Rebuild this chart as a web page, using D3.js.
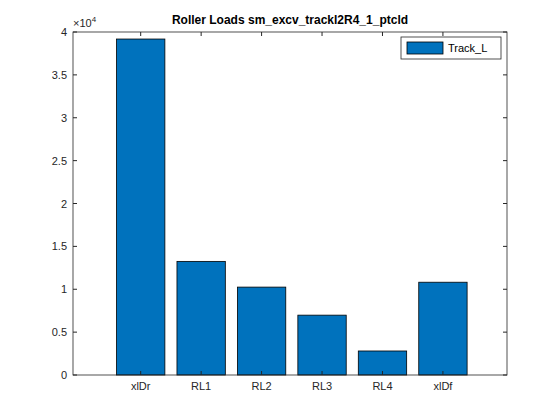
<!DOCTYPE html>
<html lang="en">
<meta charset="utf-8">
<head>
<script src="https://d3js.org/d3.v7.min.js"></script>
<style>
body{margin:0;background:#fff}
text{font-family:Arial,"Liberation Sans",sans-serif}
</style>
</head>
<body>
<script>
var categories = ["xlDr", "RL1", "RL2", "RL3", "RL4", "xlDf"];
var values = [39180, 13250, 10250, 6980, 2800, 10820];
var yTicks = [0, 0.5, 1, 1.5, 2, 2.5, 3, 3.5, 4];
var seriesName = "Track_L";

var W = 560, H = 420;
var L = 73, R = 507, T = 32, B = 375;

var svg = d3.select("body").append("svg").attr("width", W).attr("height", H);

var x = d3.scaleLinear().domain([-0.12, 7.06]).range([L, R]);
var y = d3.scaleLinear().domain([0, 40000]).range([B, T]);

svg.append("rect").attr("x", L).attr("y", T).attr("width", R - L).attr("height", B - T)
  .attr("fill", "#fff");

var bw = x(0.8) - x(0);
svg.selectAll("rect.bar").data(values).enter().append("rect")
  .attr("class", "bar")
  .attr("x", function(d, i) { return x(i + 1) - bw / 2; })
  .attr("y", function(d) { return y(d); })
  .attr("width", bw)
  .attr("height", function(d) { return B - y(d); })
  .attr("fill", "#0072BD").attr("stroke", "#000").attr("stroke-width", 0.8);

// box
svg.append("rect").attr("x", L).attr("y", T).attr("width", R - L).attr("height", B - T)
  .attr("fill", "none").attr("stroke", "#262626").attr("stroke-width", 0.8);

// y axis
var ya = svg.append("g");
yTicks.forEach(function(t) {
  var yy = y(t * 10000);
  ya.append("line").attr("x1", L).attr("x2", L + 4).attr("y1", yy).attr("y2", yy).attr("stroke", "#262626");
  ya.append("line").attr("x1", R).attr("x2", R - 4).attr("y1", yy).attr("y2", yy).attr("stroke", "#262626");
  ya.append("text").attr("x", L - 6).attr("y", yy + 4).attr("text-anchor", "end")
    .attr("font-size", 11).attr("fill", "#262626").text(t);
});
var ex = svg.append("text").attr("x", L).attr("y", T - 5).attr("font-size", 11).attr("fill", "#262626");
ex.append("tspan").text("\u00d710");
ex.append("tspan").attr("dy", -5).attr("font-size", 8).text("4");

// x axis
categories.forEach(function(c, i) {
  var xx = x(i + 1);
  svg.append("line").attr("x1", xx).attr("x2", xx).attr("y1", B).attr("y2", B - 4).attr("stroke", "#262626");
  svg.append("line").attr("x1", xx).attr("x2", xx).attr("y1", T).attr("y2", T + 4).attr("stroke", "#262626");
  svg.append("text").attr("x", xx).attr("y", B + 15).attr("text-anchor", "middle")
    .attr("font-size", 11).attr("fill", "#262626").text(c);
});

// title
svg.append("text").attr("x", (L + R) / 2).attr("y", 24).attr("text-anchor", "middle")
  .attr("font-size", 12).attr("font-weight", "bold").attr("fill", "#000")
  .text("Roller Loads sm_excv_trackl2R4_1_ptcld");

// legend
var lg = svg.append("g");
lg.append("rect").attr("x", 401).attr("y", 37).attr("width", 100).attr("height", 22)
  .attr("fill", "#fff").attr("stroke", "#262626").attr("stroke-width", 0.8);
lg.append("rect").attr("x", 407).attr("y", 42).attr("width", 36).attr("height", 12)
  .attr("fill", "#0072BD").attr("stroke", "#000").attr("stroke-width", 0.8);
lg.append("text").attr("x", 448).attr("y", 52).attr("font-size", 11).attr("fill", "#000").text(seriesName);
</script>
</body>
</html>
